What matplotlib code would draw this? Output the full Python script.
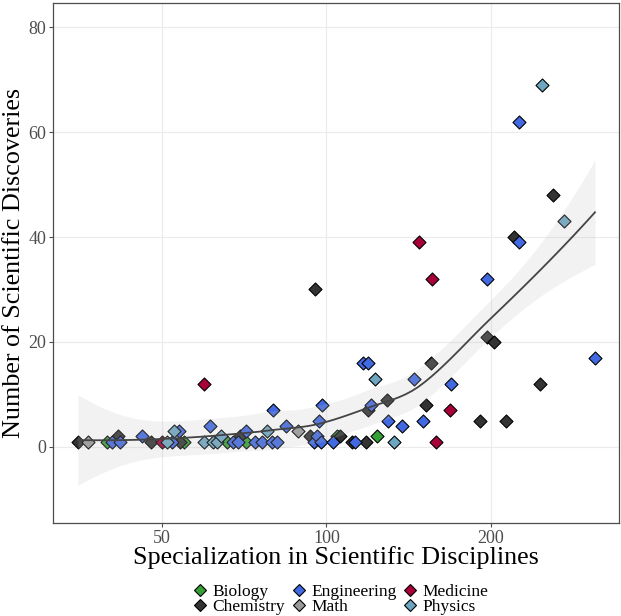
import numpy as np
import matplotlib
matplotlib.use("Agg")
import matplotlib.pyplot as plt
from matplotlib.lines import Line2D

# values, one list per field
fields = ["Biology", "Chemistry", "Engineering", "Math", "Medicine", "Physics"]
colours = ["#35A035", "#333333", "#4169E1", "#999999", "#A8003B", "#6CA6C1"]

bio_x = [39.6, 54.9, 65.7, 71.4, 104.5, 123.5]
bio_y = [1, 1, 1, 1, 2, 2]

chem_x = [35.1, 41.6, 47.7, 54.0, 69.5, 93.3, 95.3, 105.8, 111.2, 118.1, 119.3,
          129.2, 152, 155.5, 191, 197, 202.6, 213, 220, 246, 260]
chem_y = [1, 2, 1, 1, 2, 2, 30, 2, 1, 1, 7, 9, 8, 16, 5, 21, 20, 5, 40, 12, 48]

eng_x = [40.5, 41.9, 45.9, 52.1, 53.8, 61.3, 67.5, 69.0, 71.4, 74.0, 76.1, 79.4,
         80.0, 81.1, 84.3, 95.0, 96.0, 96.9, 97.7, 98.3, 102.6, 112.8, 116.5,
         118.9, 120.5, 129.7, 137.6, 144.6, 150, 169, 197, 225, 225, 310]
eng_y = [1, 1, 2, 1, 3, 4, 1, 1, 3, 1, 1, 1, 7, 1, 4, 1, 2, 5, 1, 8, 1, 1, 16,
         16, 8, 5, 4, 13, 5, 12, 32, 62, 39, 17]

math_x = [36.6, 88.8]
math_y = [1, 3]

med_x = [50.1, 59.7, 147.6, 156, 158.6, 168]
med_y = [1, 12, 39, 32, 1, 7]

phys_x = [51.1, 52.6, 59.7, 62.1, 63.1, 64.0, 77.9, 122.7, 132.9, 248, 272]
phys_y = [1, 3, 1, 1, 1, 2, 3, 13, 1, 69, 43]

xs_all = [bio_x, chem_x, eng_x, math_x, med_x, phys_x]
ys_all = [bio_y, chem_y, eng_y, math_y, med_y, phys_y]


# loess (degree 2, span 0.75) on log10(x) with kd-tree vertices and
# cubic Hermite interpolation, roughly what R's loess does for geom_smooth
def loess(x, y, grid, span=0.75, cell=0.2, tval=1.664):
    n = len(x)
    q = int(np.floor(n * span))
    xs = np.sort(x)

    def rows(x0):
        d = np.abs(x - x0)
        h = np.sort(d)[q - 1]
        w = np.clip(1 - (d / h) ** 3, 0, None) ** 3
        X = np.column_stack([np.ones(n), x - x0, (x - x0) ** 2])
        XtW = X.T * w
        B = np.linalg.solve(XtW @ X, XtW)
        return B[0], B[1]

    # vertices of the kd tree
    fc = int(np.floor(n * span * cell))
    mu = 0.005 * (xs[-1] - xs[0])
    verts = [xs[0] - mu, xs[-1] + mu]

    def split(l, u):
        if u - l + 1 <= fc:
            return
        m = (l + u) // 2
        verts.append((xs[m] + xs[m + 1]) / 2)
        split(l, m)
        split(m + 1, u)

    split(0, n - 1)
    verts = np.sort(np.array(verts))
    V0, V1 = [], []
    for v in verts:
        r0, r1 = rows(v)
        V0.append(r0)
        V1.append(r1)
    V0, V1 = np.array(V0), np.array(V1)

    def interp(x0):
        i = np.clip(np.searchsorted(verts, x0) - 1, 0, len(verts) - 2)
        a, b = verts[i], verts[i + 1]
        hh = b - a
        t = (x0 - a) / hh
        h00 = 2 * t ** 3 - 3 * t ** 2 + 1
        h10 = t ** 3 - 2 * t ** 2 + t
        h01 = -2 * t ** 3 + 3 * t ** 2
        h11 = t ** 3 - t ** 2
        return (h00 * V0[i] + h10 * hh * V1[i] + h01 * V0[i + 1]
                + h11 * hh * V1[i + 1])

    L = np.array([interp(v) for v in x])
    res = y - L @ y
    M = np.eye(n) - L
    d1 = np.trace(M.T @ M)
    sigma = np.sqrt(np.sum(res ** 2) / d1)
    G = np.array([interp(v) for v in grid])
    fit = G @ y
    se = sigma * np.sqrt(np.sum(G ** 2, axis=1))
    return fit, fit - tval * se, fit + tval * se


allx = np.log10(np.concatenate([np.array(v, float) for v in xs_all]))
ally = np.concatenate([np.array(v, float) for v in ys_all])
grid = np.linspace(allx.min(), allx.max(), 80)
fit, lo, hi = loess(allx, ally, grid)

plt.rcParams['font.family'] = ['Liberation Serif', 'DejaVu Serif']

fig = plt.figure(figsize=(6.21, 6.16), dpi=100)
ax = fig.add_axes([53 / 621, 1 - 523 / 616, 566 / 621, 520 / 616])

for name, col, xv, yv in zip(fields, colours, xs_all, ys_all):
    ax.scatter(xv, yv, marker='D', s=44, c=col, edgecolors='black',
               linewidths=0.8, zorder=3)

ax.fill_between(10 ** grid, lo, hi, color='#bebebe', alpha=0.2, lw=0, zorder=4)
ax.plot(10 ** grid, fit, color='#444444', lw=1.3, zorder=5)

ax.set_xscale('log')
ax.set_xlim(31.6, 343)
ax.set_ylim(-14.5, 84.6)
ax.set_xticks([50, 100, 200])
ax.set_xticklabels(['50', '100', '200'])
ax.minorticks_off()
ax.set_yticks([0, 20, 40, 60, 80])
ax.grid(True, color='#ebebeb', lw=0.8, zorder=0)
ax.set_axisbelow(True)
for sp in ax.spines.values():
    sp.set_color('#4d4d4d')
    sp.set_linewidth(0.9)
ax.tick_params(colors='#4d4d4d', labelcolor='#4d4d4d', labelsize=13,
               length=3, width=0.8, pad=2)

ax.set_xlabel('Specialization in Scientific Disciplines', fontsize=18.8,
              labelpad=-1)
ax.set_ylabel('Number of Scientific Discoveries', fontsize=18.8, labelpad=2)

handles = [Line2D([], [], ls='none', marker='D', markersize=6.5,
                  markerfacecolor=c, markeredgecolor='black',
                  markeredgewidth=0.8) for c in colours]
fig.legend(handles, fields, loc='center', bbox_to_anchor=(0.549, 0.027),
           ncol=3, frameon=False, fontsize=12.5, handlelength=0.8,
           handletextpad=0.3, columnspacing=0.4, labelspacing=-0.08,
           borderpad=0.1)

fig.savefig('out.png', dpi=100)
